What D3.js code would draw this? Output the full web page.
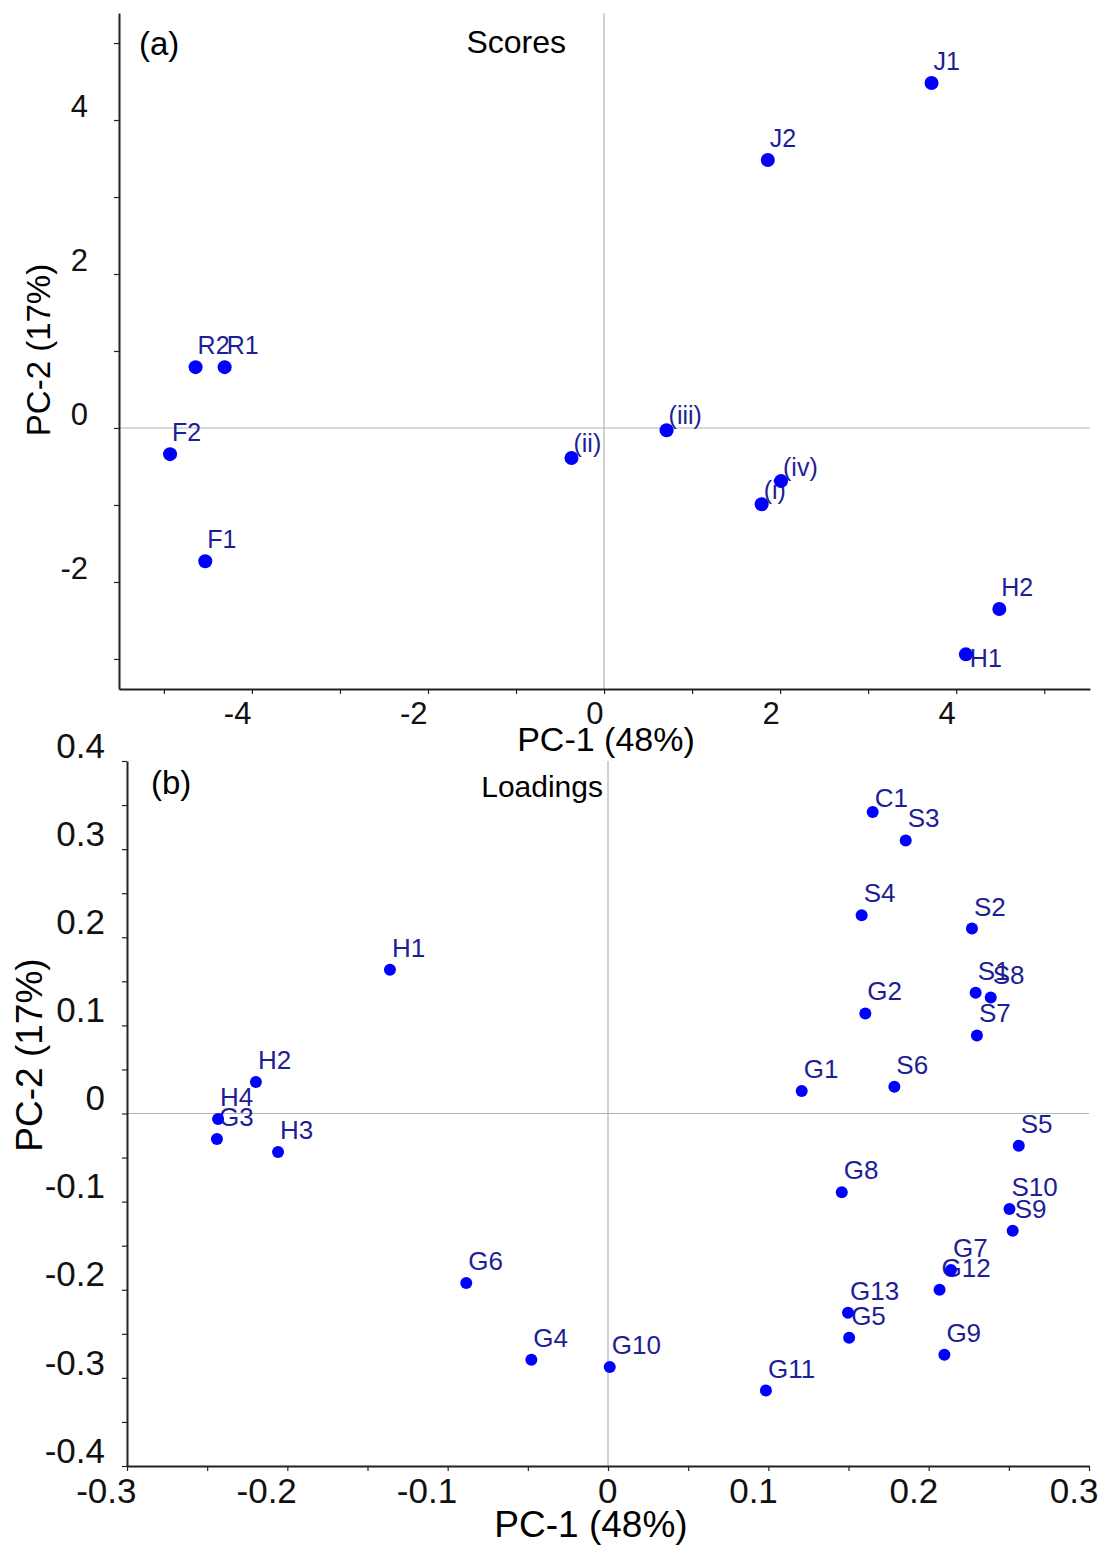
<!DOCTYPE html>
<html>
<head>
<meta charset="utf-8">
<script src="https://cdn.jsdelivr.net/npm/d3@7"></script>
<style>
  body { margin: 0; background: #fff; }
  text { font-family: "Liberation Sans", Arial, sans-serif; }
</style>
</head>
<body>
<div id="vis"></div>
<script>
// ---- panel (a): scores ----
const scoreNames = ["J1", "J2", "R2", "R1", "F2", "F1", "(ii)", "(iii)", "(iv)", "(i)", "H2", "H1"];
const scorePC1 = [3.72, 1.86, -4.64, -4.31, -4.93, -4.53, -0.37, 0.71, 2.01, 1.79, 4.49, 4.11];
const scorePC2 = [4.48, 3.48, 0.79, 0.79, -0.34, -1.73, -0.39, -0.03, -0.69, -0.99, -2.35, -2.94];
const scoreXTicks = [-5, -4, -3, -2, -1, 0, 1, 2, 3, 4, 5];
const scoreXLabels = [-4, -2, 0, 2, 4];
const scoreYTicks = [-3, -2, -1, 0, 1, 2, 3, 4, 5];
const scoreYLabels = [-2, 0, 2, 4];

// ---- panel (b): loadings ----
const loadingNames = ["H1", "H2", "H4", "G3", "H3", "G6", "G4", "G10", "G11", "G8", "G13", "G5",
  "G12", "G7", "G9", "S10", "S9", "S5", "G1", "S6", "G2", "S7", "S1", "S8", "S2", "S4", "C1", "S3"];
const loadingPC1 = [-0.136, -0.2196, -0.2432, -0.2439, -0.2058, -0.0884, -0.0478, 0.0011, 0.0985, 0.1458, 0.1497, 0.1504,
  0.2068, 0.2139, 0.2098, 0.2504, 0.2524, 0.2562, 0.1208, 0.1786, 0.1605, 0.2301, 0.2293, 0.2387, 0.227, 0.1582, 0.1651, 0.1857];
const loadingPC2 = [0.163, 0.0357, -0.0062, -0.0289, -0.0436, -0.1924, -0.2793, -0.2876, -0.3144, -0.0893, -0.2261, -0.2546,
  -0.2, -0.1777, -0.2737, -0.1084, -0.1331, -0.0365, 0.0255, 0.0304, 0.1135, 0.0886, 0.1369, 0.1317, 0.2099, 0.2249, 0.342, 0.3099];
const loadingXTicks = [-0.3, -0.25, -0.2, -0.15, -0.1, -0.05, 0, 0.05, 0.1, 0.15, 0.2, 0.25, 0.3];
const loadingXLabels = [-0.3, -0.2, -0.1, 0, 0.1, 0.2, 0.3];
const loadingYTicks = [-0.4, -0.35, -0.3, -0.25, -0.2, -0.15, -0.1, -0.05, 0, 0.05, 0.1, 0.15, 0.2, 0.25, 0.3, 0.35, 0.4];
const loadingYLabels = [-0.4, -0.3, -0.2, -0.1, 0, 0.1, 0.2, 0.3, 0.4];

// label nudges (dx, baseline dy) where the default above-right spot is not used
const scoreNudge = { "(ii)": [2, -6], "(iii)": [2, -6], "(iv)": [2, -5], "(i)": [2, -5], "H1": [4, 13] };
const loadingNudge = { "C1": [2, -5] };

const W = 1106, H = 1550;
const DOT = "#0000ff";
const LABEL = "#1e1e96";
const AXIS = "#222";

const svg = d3.select("#vis")
  .append("svg")
    .attr("width", W)
    .attr("height", H);

const isLabel = (list, d) => list.some(v => Math.abs(v - d) < 1e-9);

function drawPanel(c) {
  const g = svg.append("g");
  const [x0, x1] = c.x.range();
  const [y0, y1] = c.y.range(); // bottom, top

  // zero lines
  g.append("line")
    .attr("x1", c.x(0)).attr("x2", c.x(0))
    .attr("y1", y1).attr("y2", y0)
    .attr("stroke", "#b4b4b4").attr("stroke-width", 1.2);
  g.append("line")
    .attr("x1", x0).attr("x2", x1)
    .attr("y1", c.y(0)).attr("y2", c.y(0))
    .attr("stroke", "#b4b4b4").attr("stroke-width", 1.2);

  const xAxis = d3.axisBottom(c.x)
    .tickValues(c.xTicks)
    .tickSize(5)
    .tickSizeOuter(0)
    .tickFormat(d => isLabel(c.xLabels, d) ? String(d) : "");
  const yAxis = d3.axisLeft(c.y)
    .tickValues(c.yTicks)
    .tickSize(5)
    .tickSizeOuter(0)
    .tickFormat(d => isLabel(c.yLabels, d) ? String(d) : "");

  const gx = g.append("g")
    .attr("transform", `translate(0, ${y0})`)
    .call(xAxis);
  gx.selectAll("text")
    .attr("text-anchor", "end")
    .attr("dx", c.xLabelDx)
    .attr("y", c.xLabelY)
    .attr("dy", 0);

  const gy = g.append("g")
    .attr("transform", `translate(${x0}, 0)`)
    .call(yAxis);
  gy.selectAll("text")
    .attr("x", c.yLabelX)
    .attr("y", c.yLabelDy);

  [gx, gy].forEach(a => {
    a.attr("font-family", null).attr("font-size", null);
    a.select(".domain").attr("stroke", AXIS).attr("stroke-width", 2);
    a.selectAll(".tick line").attr("stroke", AXIS).attr("stroke-width", 1.2);
    a.selectAll("text").attr("fill", "#111").style("font-size", c.tickFont + "px");
  });

  // point labels first, dots drawn on top
  const pts = c.names.map((n, i) => ({ name: n, px: c.pc1[i], py: c.pc2[i] }));
  g.append("g")
    .selectAll("text")
    .data(pts)
    .enter()
    .append("text")
      .attr("x", d => c.x(d.px) + (c.nudge[d.name] ? c.nudge[d.name][0] : 2))
      .attr("y", d => c.y(d.py) + (c.nudge[d.name] ? c.nudge[d.name][1] : -13))
      .attr("fill", LABEL)
      .style("font-size", c.labelFont + "px")
      .text(d => d.name);
  g.append("g")
    .selectAll("circle")
    .data(pts)
    .enter()
    .append("circle")
      .attr("cx", d => c.x(d.px))
      .attr("cy", d => c.y(d.py))
      .attr("r", c.r)
      .attr("fill", DOT);

  // panel tag and title
  g.append("text")
    .attr("x", c.tagX).attr("y", c.tagY)
    .style("font-size", c.tagFont + "px")
    .text(c.tag);
  g.append("text")
    .attr("x", c.titleX).attr("y", c.titleY)
    .attr("text-anchor", "end")
    .style("font-size", c.titleFont + "px")
    .text(c.title);

  // axis titles
  g.append("text")
    .attr("x", c.xTitleX).attr("y", c.xTitleY)
    .attr("text-anchor", "middle")
    .style("font-size", c.xTitleFont + "px")
    .text("PC-1 (48%)");
  g.append("text")
    .attr("transform", `translate(${c.yTitleX}, ${c.yTitleY}) rotate(-90)`)
    .attr("text-anchor", "middle")
    .style("font-size", c.yTitleFont + "px")
    .text("PC-2 (17%)");
}

drawPanel({
  x: d3.scaleLinear().domain([-5.51, 5.52]).range([119, 1090]),
  y: d3.scaleLinear().domain([-3.39, 5.39]).range([689, 13]),
  names: scoreNames, pc1: scorePC1, pc2: scorePC2,
  xTicks: scoreXTicks, xLabels: scoreXLabels,
  yTicks: scoreYTicks, yLabels: scoreYLabels,
  tickFont: 31, xLabelDx: -1, xLabelY: 35, yLabelX: -31, yLabelDy: -13,
  nudge: scoreNudge, labelFont: 25, r: 7,
  tag: "(a)", tagX: 139, tagY: 55, tagFont: 33,
  title: "Scores", titleX: 566, titleY: 53, titleFont: 32,
  xTitleFont: 34, yTitleFont: 33, xTitleX: 606, xTitleY: 751, yTitleX: 50, yTitleY: 350
});

drawPanel({
  x: d3.scaleLinear().domain([-0.3, 0.3]).range([127, 1089]),
  y: d3.scaleLinear().domain([-0.4, 0.4]).range([1466, 761]),
  names: loadingNames, pc1: loadingPC1, pc2: loadingPC2,
  xTicks: loadingXTicks, xLabels: loadingXLabels,
  yTicks: loadingYTicks, yLabels: loadingYLabels,
  tickFont: 35, xLabelDx: 9, xLabelY: 37, yLabelX: -22, yLabelDy: -15,
  nudge: loadingNudge, labelFont: 26, r: 6,
  tag: "(b)", tagX: 151, tagY: 794, tagFont: 33,
  title: "Loadings", titleX: 603, titleY: 797, titleFont: 30,
  xTitleFont: 37, yTitleFont: 37, xTitleX: 591, xTitleY: 1537, yTitleX: 42, yTitleY: 1055
});
</script>
</body>
</html>
